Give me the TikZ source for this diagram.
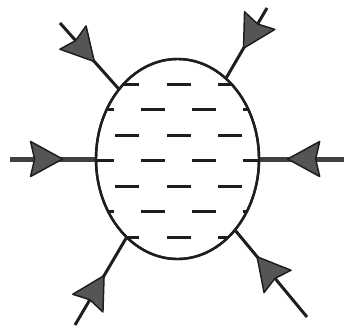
\documentclass[tikz,border=0pt]{standalone}
\usetikzlibrary{shapes.geometric,decorations.markings}
\definecolor{arrowgray}{HTML}{555555}
\definecolor{ink}{HTML}{1E1E1E}
\tikzset{
  blob/.style={draw=ink, line width=2.4pt, ellipse, minimum width=163pt, minimum height=200pt, inner sep=0pt},
  leg/.style={draw=ink, line width=3pt},
  hleg/.style={draw=ink!85, line width=5pt},
  arrowhead/.style={fill=arrowgray, draw=ink, line width=1.5pt, line join=round},
  midarrow/.style={postaction={decorate}, decoration={markings,
     mark=at position #1 with {\path[arrowhead] (0,0) -- (-32,17.5) -- (-28,0) -- (-32,-17.5) -- cycle;}}},
  minusmark/.style={draw=ink, line width=3pt}
}
\begin{document}
\begin{tikzpicture}[x=1pt,y=-1pt]
\useasboundingbox (0,0) rectangle (344,333);
\node[blob] (E) at (177.5,159) {};
\coordinate (pL) at (10,159);
\coordinate (pR) at (346,159);
\coordinate (pTL) at (60,23);
\coordinate (pTR) at (267,8);
\coordinate (pBL) at (75,325);
\coordinate (pBR) at (307,317);
\draw[hleg, midarrow=0.62] (pL) -- (E.west);
\draw[hleg, midarrow=0.68] (pR) -- (E.east);
\draw[leg, midarrow=0.59] (pTL) -- (E.130);
\draw[leg, midarrow=0.58] (pTR) -- (E.59);
\draw[leg, midarrow=0.57] (pBL) -- (E.237);
\draw[leg, midarrow=0.70] (pBR) -- (E.309);
\begin{scope}
\clip (E.center) ellipse [x radius=81pt, y radius=99.5pt];
\foreach \y in {84,135,186,237} {
  \foreach \cx in {127,178.5,229.5} {
    \draw[minusmark] (\cx-12,\y+0.5) -- (\cx+12,\y+0.5);
  }
}
\foreach \y in {109,160,211} {
  \foreach \cx in {102,153,204,255} {
    \draw[minusmark] (\cx-12,\y+0.5) -- (\cx+12,\y+0.5);
  }
}
\end{scope}
\node[blob] at (E.center) {};
\end{tikzpicture}
\end{document}
